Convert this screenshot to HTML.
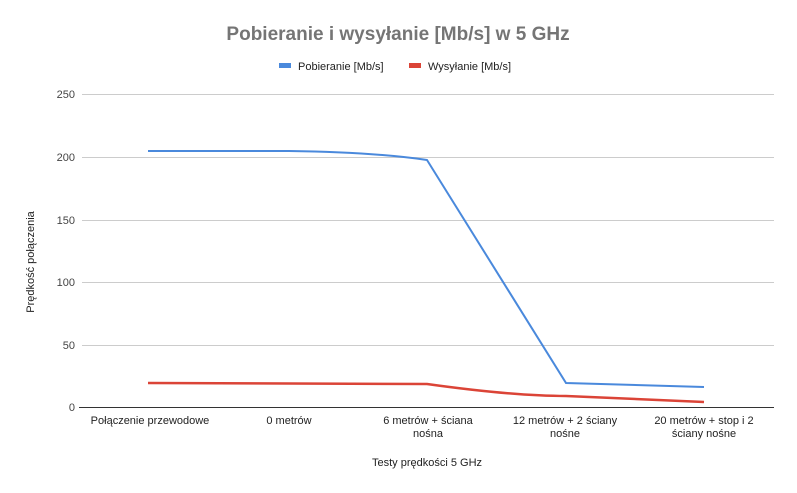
<!DOCTYPE html>
<html><head><meta charset="utf-8"><style>
body{margin:0;background:#fff}
svg{display:block;font-family:"Liberation Sans",sans-serif}
</style></head><body>
<svg width="797" height="493" viewBox="0 0 797 493">
<rect width="797" height="493" fill="#fff"/>
<text x="398" y="40" text-anchor="middle" font-size="19" font-weight="bold" fill="#757575">Pobieranie i wysyłanie [Mb/s] w 5 GHz</text>
<rect x="279" y="63" width="12" height="5" fill="#4a89dc"/>
<text x="298" y="70" font-size="11" fill="#222">Pobieranie [Mb/s]</text>
<rect x="409" y="63" width="12" height="5" fill="#db4437"/>
<text x="428" y="70" font-size="11" fill="#222">Wysyłanie [Mb/s]</text>
<g stroke="#ccc" stroke-width="1">
<line x1="82" y1="94.5" x2="774" y2="94.5"/>
<line x1="82" y1="157.5" x2="774" y2="157.5"/>
<line x1="82" y1="220.5" x2="774" y2="220.5"/>
<line x1="82" y1="282.5" x2="774" y2="282.5"/>
<line x1="82" y1="345.5" x2="774" y2="345.5"/>
</g>
<line x1="79" y1="407.5" x2="774" y2="407.5" stroke="#333" stroke-width="1"/>
<g font-size="11" fill="#444" text-anchor="end">
<text x="75" y="98">250</text><text x="75" y="161">200</text><text x="75" y="224">150</text>
<text x="75" y="286">100</text><text x="75" y="349">50</text><text x="75" y="411">0</text>
</g>
<path d="M148,151 L289,151 C360,152 400,156 427,160 L566,383 L704,387" fill="none" stroke="#4a89dc" stroke-width="2"/>
<path d="M148,383 L289,383.5 L427,384 C470,390 520,396 566,396 L704,402" fill="none" stroke="#db4437" stroke-width="2.5"/>
<g font-size="11" fill="#222" text-anchor="middle">
<text x="150" y="424">Połączenie przewodowe</text>
<text x="289" y="424">0 metrów</text>
<text x="428" y="424">6 metrów + ściana</text><text x="428" y="437">nośna</text>
<text x="565" y="424">12 metrów + 2 ściany</text><text x="565" y="437">nośne</text>
<text x="704" y="424">20 metrów + stop i 2</text><text x="704" y="437">ściany nośne</text>
<text x="427" y="466">Testy prędkości 5 GHz</text>
</g>
<text transform="translate(34,262) rotate(-90)" font-size="11" fill="#222" text-anchor="middle">Prędkość połączenia</text>
</svg>
</body></html>
